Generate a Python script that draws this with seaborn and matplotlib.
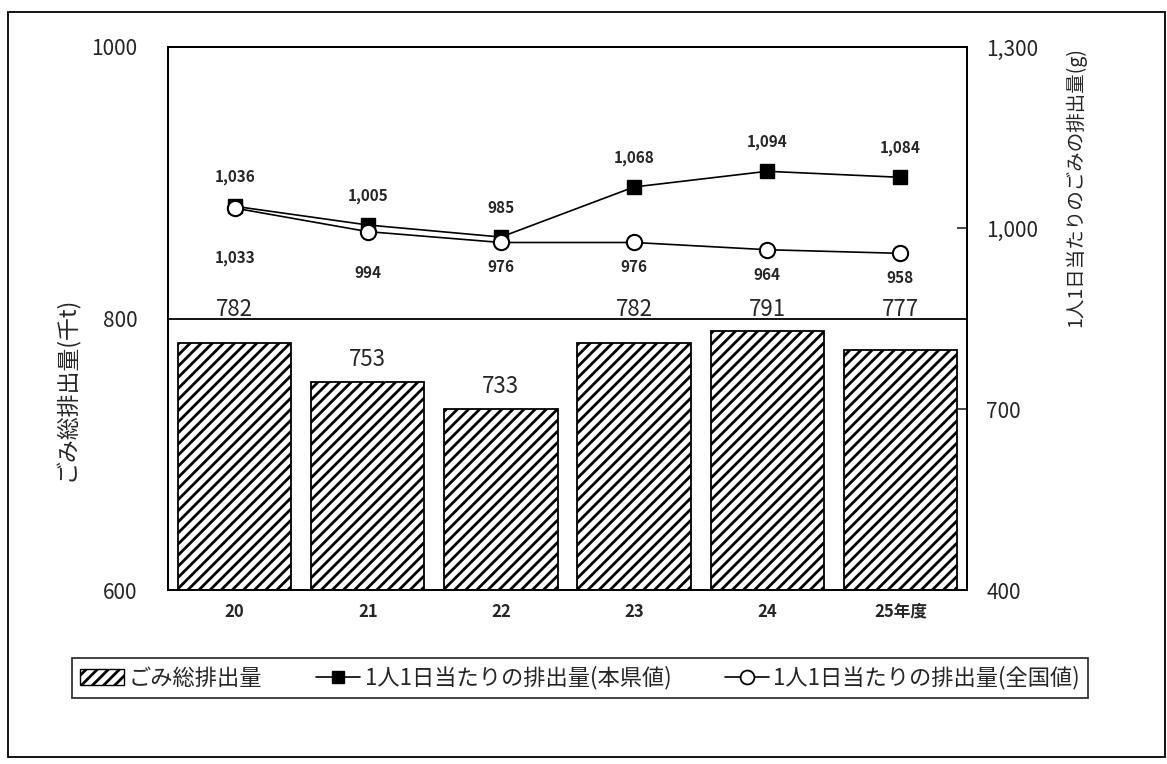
import numpy as np
import matplotlib
matplotlib.use("Agg")
import matplotlib.pyplot as plt
from matplotlib.patches import Patch, Rectangle
from matplotlib.lines import Line2D
from matplotlib.ticker import FixedLocator, FuncFormatter
import seaborn as sns

# data
years = ["20", "21", "22", "23", "24", "25年度"]
total_waste = [782, 753, 733, 782, 791, 777]          # ごみ総排出量 (千t)
per_person_pref = [1036, 1005, 985, 1068, 1094, 1084]  # 本県値 (g)
per_person_nat = [1033, 994, 976, 976, 964, 958]       # 全国値 (g)

legend_labels = ["ごみ総排出量",
                 "1人1日当たりの排出量(本県値)",
                 "1人1日当たりの排出量(全国値)"]

sns.set_style("white")
plt.rcParams["font.family"] = ["Noto Sans CJK JP", "DejaVu Sans"]
plt.rcParams["hatch.linewidth"] = 2.0
plt.rcParams["hatch.color"] = "black"

fig = plt.figure(figsize=(11.67, 7.64), dpi=100)
ax = fig.add_axes([0.144, 0.2277, 0.6846, 0.7108])

# bars
sns.barplot(x=years, y=total_waste, color="white", saturation=1, width=0.85,
            edgecolor="black", linewidth=1.3, hatch="///", ax=ax)
ax.set_ylim(600, 1000)
ax.set_xlim(-0.5, len(years) - 0.5)
ax.set_yticks([600, 800, 1000])
ax.yaxis.set_major_formatter(FuncFormatter(lambda v, p: f"{v:.0f}"))
ax.grid(axis="y", color="black", linewidth=1.3)
ax.set_axisbelow(True)
ax.tick_params(axis="y", length=0, pad=22, labelsize=15)
ax.tick_params(axis="x", which="major", length=0, pad=9, labelsize=12)
ax.xaxis.set_minor_locator(FixedLocator(np.arange(len(years) + 1) - 0.5))
ax.tick_params(axis="x", which="minor", direction="in", length=6, width=1)
for lab in ax.get_xticklabels():
    lab.set_fontweight("bold")
ax.set_xlabel("")
ax.set_ylabel("ごみ総排出量(千t)", fontsize=16.5)
ax.yaxis.set_label_coords(-0.112, 0.37)

for i, v in enumerate(total_waste):
    ly = v + 17 if v + 17 < 790 else 807
    ax.text(i, ly, f"{v}", ha="center", va="center", fontsize=16)

# lines on the secondary axis
ax2 = ax.twinx()
idx = np.arange(len(years))
sns.lineplot(x=idx, y=per_person_pref, color="black", linewidth=1.2,
             marker="s", markersize=10, markerfacecolor="black",
             markeredgecolor="black", markeredgewidth=1, ax=ax2)
sns.lineplot(x=idx, y=per_person_nat, color="black", linewidth=1.2,
             marker="o", markersize=11, markerfacecolor="white",
             markeredgecolor="black", markeredgewidth=1.5, ax=ax2)
ax2.set_ylim(400, 1300)
ax2.set_yticks([400, 700, 1000, 1300])
ax2.yaxis.set_major_formatter(FuncFormatter(lambda v, p: f"{v:,.0f}"))
ax2.tick_params(axis="y", direction="in", length=7, width=1.2, pad=14, labelsize=15)
ax2.set_ylabel("1人1日当たりのごみの排出量(g)", fontsize=14, rotation=90)
ax2.yaxis.set_label_coords(1.122, 0.742)

nat_offsets = [-36, -30, -18, -18, -18, -18]
for i, (p, n) in enumerate(zip(per_person_pref, per_person_nat)):
    ax2.annotate(f"{p:,}", (i, p), xytext=(0, 21), textcoords="offset points",
                 ha="center", va="center", fontsize=11, fontweight="bold")
    ax2.annotate(f"{n:,}", (i, n), xytext=(0, nat_offsets[i]), textcoords="offset points",
                 ha="center", va="center", fontsize=11, fontweight="bold")

for a in (ax, ax2):
    for s in a.spines.values():
        s.set_color("black")
        s.set_linewidth(1.3)

# legend
handles = [
    Patch(facecolor="white", edgecolor="black", hatch="///"),
    Line2D([], [], color="black", linewidth=1.2, marker="s", markersize=9,
           markerfacecolor="black"),
    Line2D([], [], color="black", linewidth=1.2, marker="o", markersize=10,
           markerfacecolor="white", markeredgewidth=1.3),
]
leg = fig.legend(handles, legend_labels, loc="center", bbox_to_anchor=(0.497, 0.1126),
                 ncol=3, frameon=True, fancybox=False, edgecolor="black", fontsize=16,
                 handlelength=2.0, handletextpad=0.2, columnspacing=2.4, borderpad=0.35,
                 borderaxespad=0)
leg.get_frame().set_linewidth(1.3)

# outer frame
fig.patches.append(Rectangle((0.007, 0.009), 0.991, 0.975, transform=fig.transFigure,
                             fill=False, edgecolor="black", linewidth=1.3))

fig.savefig("out.png", dpi=100)
